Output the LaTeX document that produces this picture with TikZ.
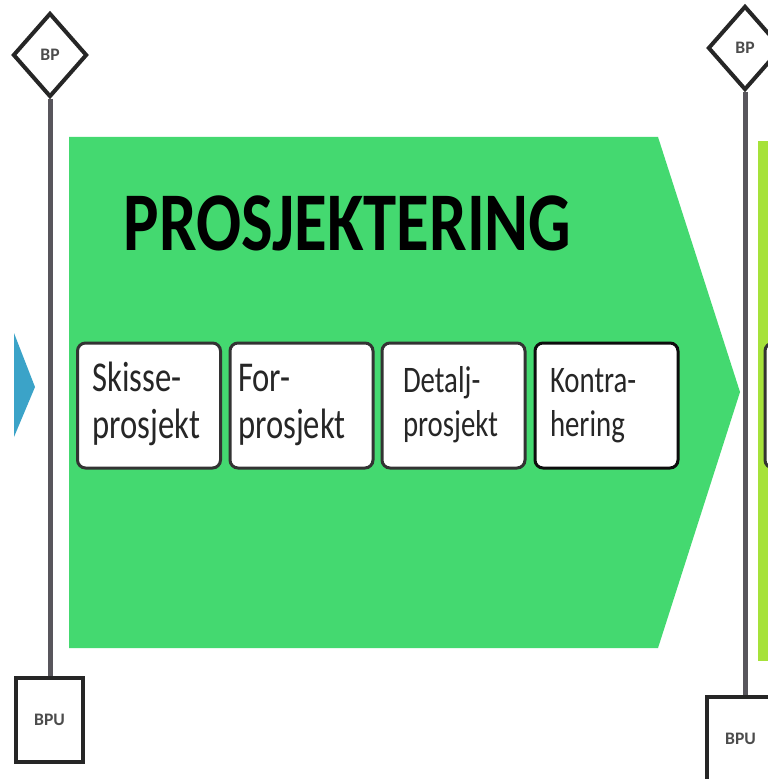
\documentclass[tikz,border=0pt]{standalone}
\usepackage{fontspec}
\setmainfont{Carlito}
\usepackage{tikz}
\usetikzlibrary{shapes.geometric}

\definecolor{phasegreen}{RGB}{68,217,112}
\definecolor{phaselime}{RGB}{166,226,58}
\definecolor{phaseblue}{RGB}{59,163,200}
\definecolor{poleline}{RGB}{88,86,92}

\newcommand{\tallbox}[1]{\scalebox{1}[1.3]{#1}}
\newcommand{\stagetext}[2]{\tallbox{\begin{tabular}{@{}l@{}}#1\\#2\end{tabular}}}

\tikzset{
  gate/.style={diamond, draw=black!85, line width=0.4mm, fill=white,
    minimum width=7.4mm, minimum height=8.4mm, inner sep=0pt,
    font=\fontsize{5}{5}\selectfont\bfseries, text=black!70},
  gatebox/.style={rectangle, draw=black!85, line width=0.35mm, fill=white,
    minimum width=6.7mm, minimum height=8.4mm, inner sep=0pt,
    font=\fontsize{5}{5}\selectfont\bfseries, text=black!70},
  stagebox/.style={rectangle, draw=black!80, line width=0.3mm,
    rounded corners=0.8mm, fill=white, minimum width=14.3mm,
    minimum height=12.5mm, align=left, text=black!85},
  bigfont/.style={font=\fontsize{9.3}{10.3}\selectfont},
  smallfont/.style={font=\fontsize{8.2}{9.8}\selectfont},
  pole/.style={draw=poleline, line width=0.5mm}
}

\begin{document}
\begin{tikzpicture}[x=0.1mm, y=-0.1mm]
\path[clip, use as bounding box] (0,0) rectangle (768,779);
\fill[white] (0,0) rectangle (768,779);

% phases
\fill[phaseblue] (14,333) -- (35,387) -- (14,437) -- cycle;
\fill[phasegreen] (69,137) -- (658,137) -- (740,392) -- (658,648) -- (69,648) -- cycle;
\fill[phaselime] (758,141) rectangle (790,661);
\draw[draw=black!80, line width=0.3mm, rounded corners=0.8mm, fill=white] (765,343) rectangle (900,468);

\node[anchor=base west, inner sep=0pt, font=\fontsize{19}{19}\selectfont\bfseries]
  (title) at (123,250) {\scalebox{1}[1.25]{PROSJEKTERING}};

% steps
\node[stagebox, bigfont, inner xsep=1.5mm, text width=11.3mm] (skisse) at (149,405.5)
  {\stagetext{Skisse-}{prosjekt}};
\node[stagebox, bigfont, inner xsep=0.8mm, text width=12.7mm] (forprosj) at (301.5,405.5)
  {\stagetext{For-}{prosjekt}};
\node[stagebox, smallfont, inner xsep=2.1mm, text width=10.1mm] (detalj) at (453.5,405.5)
  {\stagetext{Detalj-}{prosjekt}};
\node[stagebox, smallfont, inner xsep=1.5mm, text width=11.3mm, draw=black!95] (kontra) at (606.5,405.5)
  {\stagetext{Kontra-}{hering}};

% decision points
\node[gate] (bp1) at (50,55) {BP};
\node[gatebox] (bpu1) at (49.5,720) {BPU};
\draw[pole] (bp1.south) -- (bp1.south |- bpu1.north);

\node[gate] (bp2) at (745,48) {BP};
\node[gatebox] (bpu2) at (740.5,739) {BPU};
\draw[pole] (bp2.south) -- (bp2.south |- bpu2.north);
\end{tikzpicture}
\end{document}
